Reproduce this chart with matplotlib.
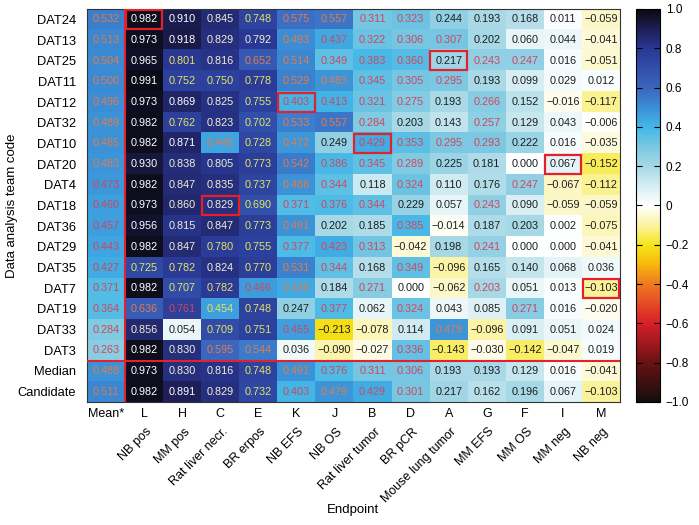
import numpy as np
import matplotlib
matplotlib.use("Agg")
import matplotlib.pyplot as plt
from matplotlib.colors import LinearSegmentedColormap
from matplotlib.patches import Rectangle

plt.rcParams['font.family'] = ['Liberation Sans', 'DejaVu Sans']

teams = ["DAT24", "DAT13", "DAT25", "DAT11", "DAT12", "DAT32", "DAT10", "DAT20",
         "DAT4", "DAT18", "DAT36", "DAT29", "DAT35", "DAT7", "DAT19", "DAT33",
         "DAT3", "Median", "Candidate"]
codes = ["Mean*", "L", "H", "C", "E", "K", "J", "B", "D", "A", "G", "F", "I", "M"]
endpoints = ["", "NB pos", "MM pos", "Rat liver necr.", "BR erpos", "NB EFS", "NB OS",
             "Rat liver tumor", "BR pCR", "Mouse lung tumor", "MM EFS", "MM OS",
             "MM neg", "NB neg"]

# MCC par équipe (lignes) et endpoint (colonnes)
mcc = [
    [0.532, 0.982, 0.910, 0.845, 0.748, 0.575, 0.557, 0.311, 0.323, 0.244, 0.193, 0.168, 0.011, -0.059],
    [0.513, 0.973, 0.918, 0.829, 0.792, 0.493, 0.437, 0.322, 0.306, 0.307, 0.202, 0.060, 0.044, -0.041],
    [0.504, 0.965, 0.801, 0.816, 0.652, 0.514, 0.349, 0.383, 0.360, 0.217, 0.243, 0.247, 0.016, -0.051],
    [0.500, 0.991, 0.752, 0.750, 0.778, 0.529, 0.483, 0.345, 0.305, 0.295, 0.193, 0.099, 0.029, 0.012],
    [0.496, 0.973, 0.869, 0.825, 0.755, 0.403, 0.413, 0.321, 0.275, 0.193, 0.266, 0.152, -0.016, -0.117],
    [0.489, 0.982, 0.762, 0.823, 0.702, 0.533, 0.557, 0.284, 0.203, 0.143, 0.257, 0.129, 0.043, -0.006],
    [0.485, 0.982, 0.871, 0.445, 0.728, 0.472, 0.249, 0.429, 0.353, 0.295, 0.293, 0.222, 0.016, -0.035],
    [0.483, 0.930, 0.838, 0.805, 0.773, 0.542, 0.386, 0.345, 0.289, 0.225, 0.181, 0.000, 0.067, -0.152],
    [0.473, 0.982, 0.847, 0.835, 0.737, 0.488, 0.344, 0.118, 0.324, 0.110, 0.176, 0.247, -0.067, -0.112],
    [0.460, 0.973, 0.860, 0.829, 0.690, 0.371, 0.376, 0.344, 0.229, 0.057, 0.243, 0.090, -0.059, -0.059],
    [0.457, 0.956, 0.815, 0.847, 0.773, 0.491, 0.202, 0.185, 0.385, -0.014, 0.187, 0.203, 0.002, -0.075],
    [0.443, 0.982, 0.847, 0.780, 0.755, 0.377, 0.423, 0.313, -0.042, 0.198, 0.241, 0.000, 0.000, -0.041],
    [0.427, 0.725, 0.782, 0.824, 0.770, 0.531, 0.344, 0.168, 0.349, -0.096, 0.165, 0.140, 0.068, 0.036],
    [0.371, 0.982, 0.707, 0.782, 0.466, 0.436, 0.184, 0.271, 0.000, -0.062, 0.203, 0.051, 0.013, -0.103],
    [0.364, 0.636, 0.761, 0.454, 0.748, 0.247, 0.377, 0.062, 0.324, 0.043, 0.085, 0.271, 0.016, -0.020],
    [0.284, 0.856, 0.054, 0.709, 0.751, 0.455, -0.213, -0.078, 0.114, 0.479, -0.096, 0.091, 0.051, 0.024],
    [0.263, 0.982, 0.830, 0.595, 0.544, 0.036, -0.090, -0.027, 0.336, -0.143, -0.030, -0.142, -0.047, 0.019],
    [0.488, 0.973, 0.830, 0.816, 0.748, 0.491, 0.376, 0.311, 0.306, 0.193, 0.193, 0.129, 0.016, -0.041],
    [0.511, 0.982, 0.891, 0.829, 0.732, 0.403, 0.479, 0.429, 0.301, 0.217, 0.162, 0.196, 0.067, -0.103],
]

# couleur du texte: w blanc, l jaune pâle, y jaune, o orange, r rouge, k noir
txt = [
    "owwlyoorrkkkkk",
    "owwllorrrrkkkk",
    "owyloorrrkrrkk",
    "owyyyoorrrkkkk",
    "owwlyrrrrkrkkk",
    "owylyoorkkrkkk",
    "owwoyokrrrrkkk",
    "owllyorrrkkkkk",
    "rwllyorkrkkrkk",
    "rwllyrrrkkrkkk",
    "rwllyokkrkkkkk",
    "rwlyyrrrkkrkkk",
    "ryylyorkrkkkkk",
    "rwyyrokrkkrkkk",
    "roryykrkrkkrkk",
    "rlkyyrkkkokkkk",
    "rwlookkkrkkkkk",
    "owllyorrrkkkkk",
    "owwlyrorrkkkkk",
]
txt_colors = {"w": "#ffffff", "l": "#f2efcf", "y": "#e4e463", "o": "#e57a4e",
              "r": "#cf4660", "k": "#1e1e1e"}

# cellules encadrées (ligne, colonne)
boxes = [(0, 1), (4, 5), (2, 9), (6, 7), (9, 3), (7, 12), (13, 13)]

cmap = LinearSegmentedColormap.from_list("mcc", [
    (0.00, "#140e0e"), (0.10, "#6a1212"), (0.20, "#d81f2a"), (0.30, "#f07a20"),
    (0.35, "#f6b80c"), (0.40, "#f6e61a"), (0.45, "#fbf3a4"), (0.50, "#ffffff"),
    (0.55, "#d6eef3"), (0.60, "#a6d8e6"), (0.65, "#7ac8e2"), (0.70, "#42b8e8"),
    (0.75, "#3b8ed6"), (0.80, "#3a66be"), (0.90, "#293894"), (0.95, "#1e1f58"),
    (1.00, "#0a0a12")])

data = np.array(mcc)
nr, nc = data.shape

fig = plt.figure(figsize=(6.99, 5.25), dpi=100)
ax = fig.add_axes([0.1245, 0.2343, 0.7625, 0.7486])
cax = fig.add_axes([0.910, 0.2343, 0.0343, 0.7486])

im = ax.imshow(data, cmap=cmap, vmin=-1, vmax=1, aspect="auto", interpolation="nearest")

for i in range(nr):
    for j in range(nc):
        s = f"{data[i, j]:.3f}".replace("-", "\u2212")
        ax.text(j, i, s, ha="center", va="center", fontsize=7.8,
                color=txt_colors[txt[i][j]])

for (i, j) in boxes:
    ax.add_patch(Rectangle((j - 0.48, i - 0.46), 0.96, 0.92, fill=False,
                           edgecolor="#e3202c", lw=1.6, zorder=5))

ax.axvline(0.5, color="#e3202c", lw=1.5, zorder=4)
ax.axhline(16.5, color="#e3202c", lw=1.5, zorder=4)

ax.set_xticks(range(nc))
ax.set_xticklabels(codes, fontsize=9)
ax.set_yticks(range(nr))
ax.set_yticklabels(teams, fontsize=9.3)
ax.tick_params(length=0)
ax.tick_params(axis="y", pad=8)
ax.tick_params(axis="x", pad=4)
for sp in ax.spines.values():
    sp.set_linewidth(0.8)
    sp.set_color("#333333")

for j, name in enumerate(endpoints):
    if name:
        ax.annotate(name, xy=(j, 0), xycoords=("data", "axes fraction"),
                    xytext=(1, -17), textcoords="offset points",
                    ha="right", va="top", rotation=45, rotation_mode="anchor",
                    fontsize=9)

ax.set_ylabel("Data analysis team code", fontsize=9.5)
ax.yaxis.set_label_coords(-0.130, 0.5)
fig.text(0.505, 0.028, "Endpoint", ha="center", va="center", fontsize=9.5)

cb = fig.colorbar(im, cax=cax, ticks=np.linspace(-1, 1, 11))
cb.set_ticklabels(["\u22121.0", "\u22120.8", "\u22120.6", "\u22120.4", "\u22120.2", "0",
                   "0.2", "0.4", "0.6", "0.8", "1.0"])
cax.tick_params(direction="in", left=True, right=True, length=4, labelsize=8.5, pad=4)
cb.outline.set_linewidth(0.8)

fig.savefig("out.png", dpi=100)
